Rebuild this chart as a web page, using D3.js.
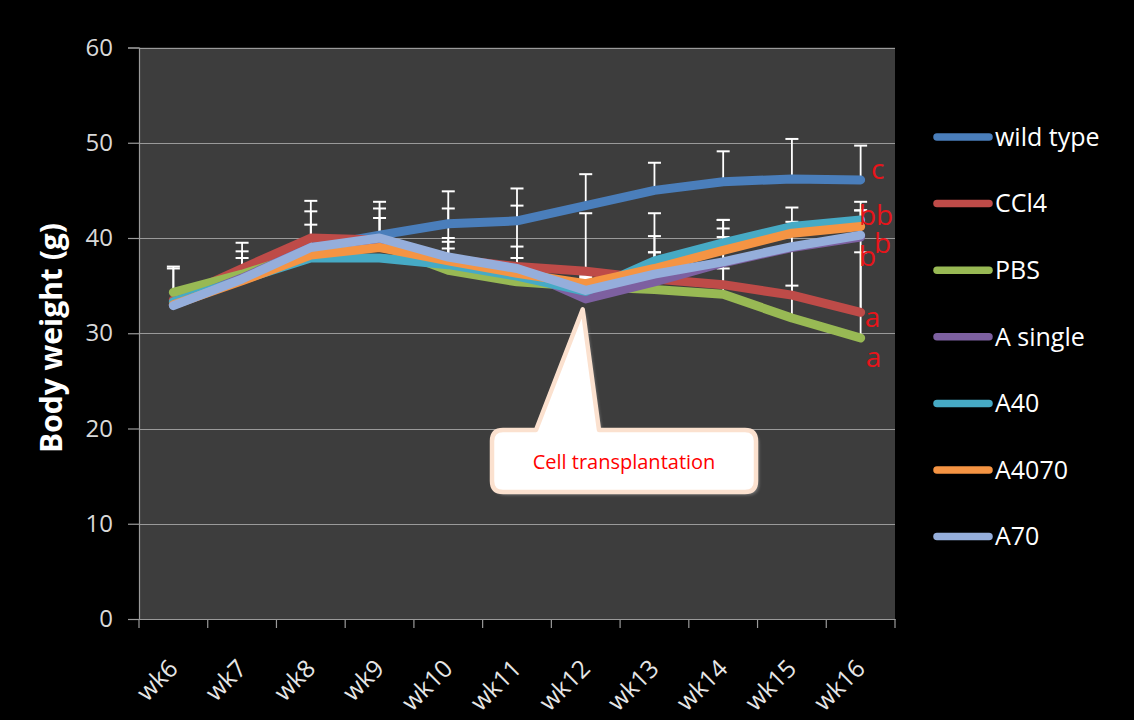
<!DOCTYPE html>
<html>
<head>
<meta charset="utf-8">
<script src="https://cdn.jsdelivr.net/npm/d3@7/dist/d3.min.js"></script>
<style>
  html, body { margin: 0; padding: 0; background: #000; }
  svg { display: block; }
</style>
</head>
<body>
<svg id="chart" width="1134" height="720"></svg>
<script>
// Weekly body weight of mice per treatment group
const weeks = ["wk6","wk7","wk8","wk9","wk10","wk11","wk12","wk13","wk14","wk15","wk16"];
const seriesNames = ["wild type","CCl4","PBS","A single","A40","A4070","A70"];
const seriesColors = ["#4a7ebb","#be4b48","#98b954","#7d60a0","#46aac5","#f59443","#95aedb"];

const wildType = [33.0, 36.0, 39.0, 40.3, 41.5, 41.8, 43.4, 45.0, 45.9, 46.2, 46.1];
const ccl4     = [33.5, 36.8, 40.0, 39.8, 37.8, 37.0, 36.5, 35.7, 35.1, 34.0, 32.2];
const pbs      = [34.3, 36.2, 38.5, 39.3, 36.6, 35.4, 34.9, 34.6, 34.1, 31.6, 29.5];
const aSingle  = [33.0, 35.8, 39.0, 39.8, 37.8, 36.8, 33.6, 35.4, 37.4, 39.0, 40.1];
const a40      = [33.3, 35.6, 37.9, 37.9, 37.2, 36.0, 34.4, 37.6, 39.5, 41.2, 41.9];
const a4070    = [33.0, 35.5, 38.2, 39.0, 37.6, 36.3, 35.2, 36.8, 38.7, 40.5, 41.2];
const a70      = [32.9, 35.7, 39.0, 40.0, 38.0, 36.8, 34.5, 36.2, 37.5, 39.1, 40.3];

// Upper (plus) standard deviations, g
const errWildType = [4.0, 3.5, 4.9, 3.5, 3.4, 3.4, 3.3, 2.9, 3.2, 4.2, 3.6];
const errCcl4     = [3.3, 1.8, 2.8, 3.3, 5.3, 6.4, 6.1, 0.0, 1.7, 1.0, 6.3];
const errPbs      = [0.0, 0.0, 0.0, 0.0, 2.3, 0.0, 0.0, 3.9, 7.8, 11.6, 14.3];
const errASingle  = [0.0, 0.0, 0.0, 0.0, 0.0, 0.0, 0.0, 0.0, 0.0, 0.0, 0.0];
const errA40      = [0.0, 0.0, 0.0, 0.0, 0.0, 0.0, 1.4, 5.0, 2.4, 0.5, 1.0];
const errA4070    = [0.0, 0.0, 0.0, 0.0, 2.0, 1.6, 0.8, 3.4, 2.3, 0.0, 1.7];
const errA70      = [0.0, 2.2, 2.4, 2.1, 2.0, 2.3, 0.0, 2.3, 2.6, 0.0, 0.0];

const yTicks = [0, 10, 20, 30, 40, 50, 60];

// Significance letters at wk16 (letter, weight level, horizontal offset px)
const sigLetters = ["c","b","b","b","b","a","a"];
const sigLevels  = [47.1, 42.2, 42.2, 39.3, 37.9, 31.5, 27.3];
const sigOffsets = [17, 7, 24, 22, 7, 12, 13];

const calloutText = "Cell transplantation";
const calloutWeek = "wk12";
const calloutTipLevel = 32.5;

const seriesValues = [wildType, ccl4, pbs, aSingle, a40, a4070, a70];
const seriesErrors = [errWildType, errCcl4, errPbs, errASingle, errA40, errA4070, errA70];

const series = seriesNames.map((name, i) => ({
  name, color: seriesColors[i],
  points: weeks.map((w, j) => ({ week: w, value: seriesValues[i][j], err: seriesErrors[i][j] }))
}));

const svg = d3.select("#chart");
const plot = { left: 139, right: 895, top: 47.5, bottom: 619 };

const x = d3.scaleBand().domain(weeks).range([plot.left, plot.right]);
const cx = w => x(w) + x.bandwidth() / 2;
const y = d3.scaleLinear().domain([0, 60]).range([plot.bottom, plot.top]);

const FONT = "'Open Sans', 'Liberation Sans', sans-serif";

svg.append("rect").attr("width", 1134).attr("height", 720).attr("fill", "#000");

// plot area
svg.append("rect")
  .attr("x", plot.left).attr("y", plot.top)
  .attr("width", plot.right - plot.left).attr("height", plot.bottom - plot.top)
  .attr("fill", "#3d3d3d");

// horizontal gridlines
svg.append("g").selectAll("line").data(yTicks.filter(t => t > 0)).join("line")
  .attr("x1", plot.left).attr("x2", plot.right)
  .attr("y1", d => Math.round(y(d)) + 0.5).attr("y2", d => Math.round(y(d)) + 0.5)
  .attr("stroke", "#9a9a9a").attr("stroke-width", 1.2);

// y axis
const yAxis = svg.append("g")
  .attr("transform", `translate(${plot.left},0)`)
  .call(d3.axisLeft(y).tickValues(yTicks).tickSize(11).tickPadding(15));
yAxis.select(".domain").attr("stroke", "#9a9a9a").attr("stroke-width", 1.2);
yAxis.selectAll(".tick line").attr("stroke", "#9a9a9a").attr("stroke-width", 1.2);
yAxis.selectAll(".tick text")
  .attr("fill", "#d9d9d9").attr("font-family", FONT).attr("font-size", 24);

// x axis: baseline, tick marks at band boundaries, rotated labels
const xAxis = svg.append("g")
  .attr("transform", `translate(0,${plot.bottom})`)
  .call(d3.axisBottom(x).tickSize(0).tickFormat(""));
xAxis.select(".domain").attr("stroke", "#9a9a9a").attr("stroke-width", 1.2);

const bounds = weeks.map(w => x(w)).concat([x.range()[1]]);
svg.append("g").selectAll("line").data(bounds).join("line")
  .attr("x1", d => d).attr("x2", d => d)
  .attr("y1", plot.bottom).attr("y2", plot.bottom + 9)
  .attr("stroke", "#9a9a9a").attr("stroke-width", 1.2);

svg.append("g").selectAll("text").data(weeks).join("text")
  .attr("transform", d => `translate(${cx(d) + 6},${plot.bottom + 51}) rotate(-45)`)
  .attr("text-anchor", "end")
  .attr("fill", "#e6e6e6").attr("font-family", FONT).attr("font-size", 24.5)
  .text(d => d);

// y axis title
svg.append("text")
  .attr("transform", `translate(62,338) rotate(-90)`)
  .attr("text-anchor", "middle")
  .attr("fill", "#ffffff").attr("font-family", FONT).attr("font-weight", "bold")
  .attr("font-size", 30)
  .text("Body weight (g)");

// error bars (plus direction, capped)
const errG = svg.append("g");
series.forEach(s => {
  s.points.filter(p => p.err > 0).forEach(p => {
    const px = cx(p.week);
    errG.append("line")
      .attr("x1", px).attr("x2", px)
      .attr("y1", y(p.value)).attr("y2", y(p.value + p.err))
      .attr("stroke", "#ffffff").attr("stroke-width", 1.8);
    errG.append("line")
      .attr("x1", px - 6.5).attr("x2", px + 6.5)
      .attr("y1", y(p.value + p.err)).attr("y2", y(p.value + p.err))
      .attr("stroke", "#ffffff").attr("stroke-width", 2);
  });
});

// series lines
const line = d3.line().x(d => cx(d.week)).y(d => y(d.value));
svg.append("g").selectAll("path").data(series).join("path")
  .attr("d", d => line(d.points))
  .attr("fill", "none")
  .attr("stroke", d => d.color)
  .attr("stroke-width", 9)
  .attr("stroke-linejoin", "round")
  .attr("stroke-linecap", "round");

// significance letters
const lastWeek = weeks[weeks.length - 1];
svg.append("g").selectAll("text").data(sigLetters).join("text")
  .attr("x", (d, i) => cx(lastWeek) + sigOffsets[i])
  .attr("y", (d, i) => y(sigLevels[i]))
  .attr("dy", "0.3em")
  .attr("text-anchor", "middle")
  .attr("fill", "#e8141a").attr("font-family", FONT).attr("font-size", 28)
  .text(d => d);

// callout: rounded box with a pointer to the transplantation week
const tipX = cx(calloutWeek) - 3, tipY = y(calloutTipLevel);
const bx0 = 492, bx1 = 756, by0 = 430, by1 = 492, r = 11;
const baseL = 536, baseR = 599;
const calloutPath = [
  `M${bx0 + r},${by0}`,
  `L${baseL},${by0}`,
  `L${tipX},${tipY}`,
  `L${baseR},${by0}`,
  `L${bx1 - r},${by0}`,
  `Q${bx1},${by0} ${bx1},${by0 + r}`,
  `L${bx1},${by1 - r}`,
  `Q${bx1},${by1} ${bx1 - r},${by1}`,
  `L${bx0 + r},${by1}`,
  `Q${bx0},${by1} ${bx0},${by1 - r}`,
  `L${bx0},${by0 + r}`,
  `Q${bx0},${by0} ${bx0 + r},${by0}`, "Z"
].join(" ");

const defs = svg.append("defs");
defs.append("filter").attr("id", "soft")
  .append("feGaussianBlur").attr("stdDeviation", 1.5);

svg.append("path").attr("d", calloutPath)
  .attr("transform", "translate(3,3)")
  .attr("fill", "#8a8a8a").attr("opacity", 0.7)
  .attr("filter", "url(#soft)");
svg.append("path").attr("d", calloutPath)
  .attr("fill", "#ffffff")
  .attr("stroke", "#fbe1cf").attr("stroke-width", 4.5)
  .attr("stroke-linejoin", "round");
svg.append("text")
  .attr("x", (bx0 + bx1) / 2).attr("y", (by0 + by1) / 2 + 1)
  .attr("dy", "0.35em").attr("text-anchor", "middle")
  .attr("fill", "#ff0000").attr("font-family", FONT).attr("font-size", 20)
  .text(calloutText);

// legend
const legend = svg.append("g");
const legendY0 = 137, legendStep = 66.6;
series.forEach((s, i) => {
  const ly = legendY0 + i * legendStep;
  legend.append("line")
    .attr("x1", 937).attr("x2", 989).attr("y1", ly).attr("y2", ly)
    .attr("stroke", s.color).attr("stroke-width", 7.5).attr("stroke-linecap", "round");
  legend.append("text")
    .attr("x", 995).attr("y", ly).attr("dy", "0.35em")
    .attr("fill", "#ffffff").attr("font-family", FONT).attr("font-size", 25)
    .text(s.name);
});
</script>
</body>
</html>
